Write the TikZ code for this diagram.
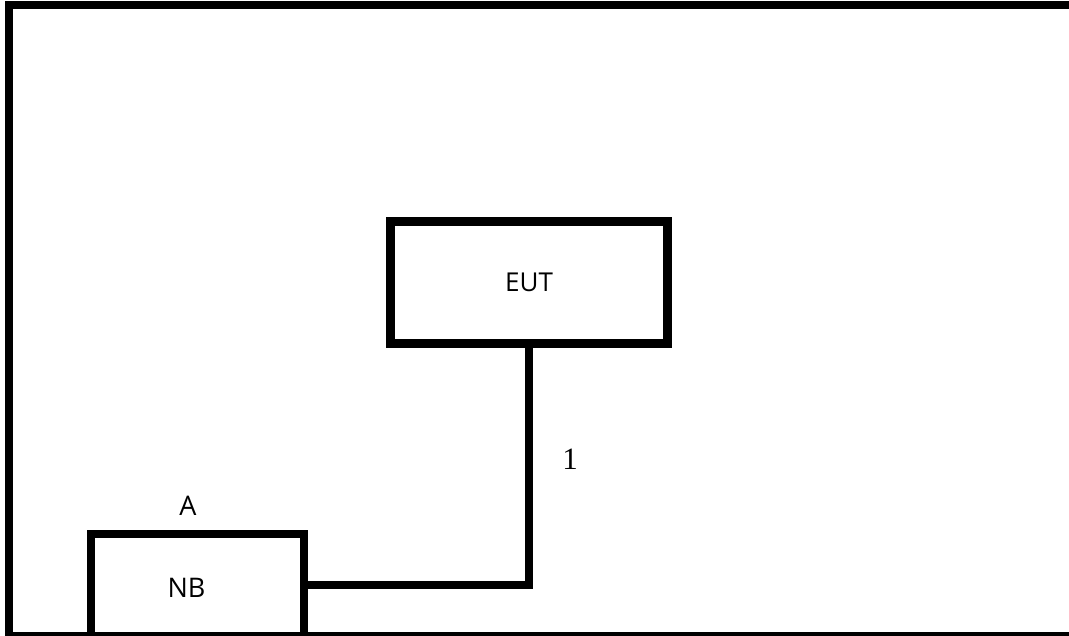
\documentclass[tikz,border=0pt]{standalone}
\usepackage{fontspec}
\setmainfont{Open Sans}
\newfontfamily\digitfont{Liberation Serif}
\usetikzlibrary{positioning}
\definecolor{ink}{HTML}{000000}

\tikzset{
  unit/.style={draw=ink, line width=8.5pt, rectangle, inner sep=0pt,
               font=\fontsize{26}{30}\selectfont},
  wire/.style={draw=ink, line width=8.5pt},
  tag/.style={font=\fontsize{27}{31}\selectfont, inner sep=0pt}
}

\begin{document}
\begin{tikzpicture}[x=1pt, y=-1pt]
  \useasboundingbox (0,0) rectangle (1069,636);
  \clip (0,0) rectangle (1069,636);
  % outer frame, right and bottom run off the page
  \draw[wire] (9,5) rectangle (1078,636);

  \node[unit, minimum width=277pt, minimum height=122pt] (eut) at (529,282.5) {EUT};
  \node[unit, minimum width=213pt, minimum height=102pt] (nb) at (197.5,585) {};
  \node[tag] (nbtext) at (186.5,587.5) {NB};
  \node[tag] (nbname) at (188,506) {A};

  \draw[wire] (eut.south) |- (nb.east);
  \node[font=\digitfont\fontsize{31}{35}\selectfont, inner sep=0pt] (cable) at (570,459) {1};
\end{tikzpicture}
\end{document}
